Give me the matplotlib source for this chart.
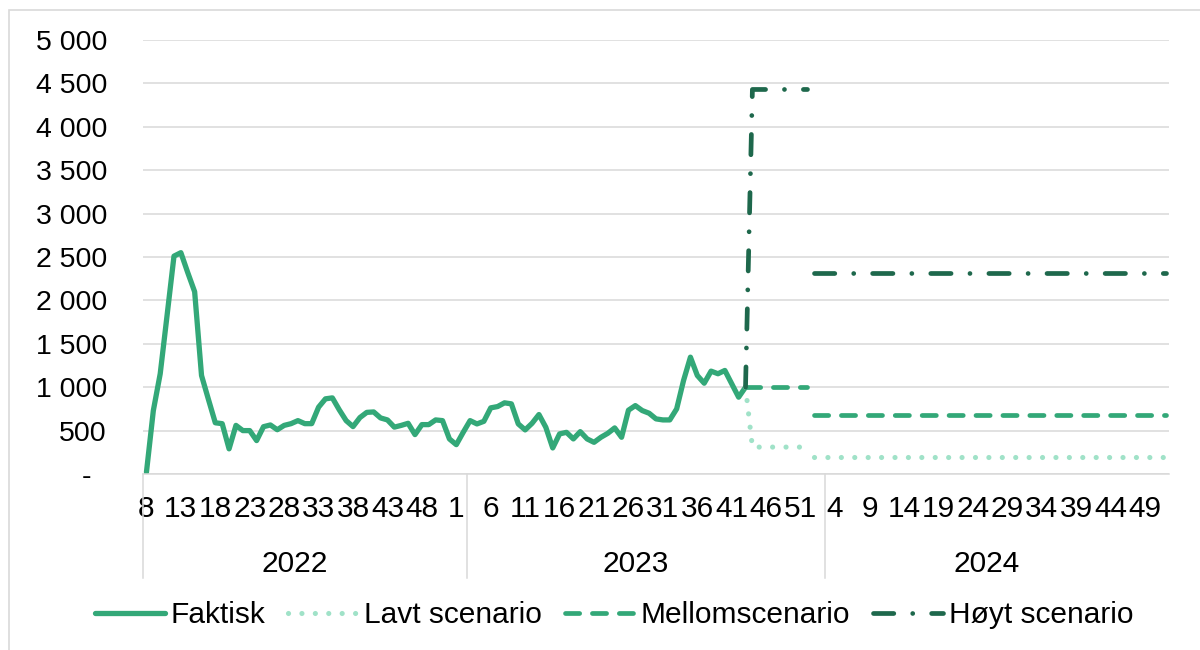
import matplotlib
matplotlib.use("Agg")
import matplotlib.pyplot as plt
import matplotlib.transforms as mtransforms
from matplotlib.patches import Rectangle
import numpy as np

plt.rcParams['font.family'] = ['Liberation Sans', 'DejaVu Sans']

#%% Data
years = ['2022', '2023', '2024']
weeks_2022 = list(range(8, 53)) + [1, 2]
weeks_2023 = list(range(3, 53)) + [1, 2]
weeks_2024 = list(range(3, 53))
weeks = weeks_2022 + weeks_2023 + weeks_2024

faktisk = [20, 730, 1155, 1830, 2510, 2550, 2320, 2100, 1135, 860,
           590, 580, 290, 560, 500, 500, 385, 545, 565, 510,
           560, 580, 615, 580, 580, 770, 866, 877, 740, 615,
           546, 650, 710, 715, 646, 623, 540, 560, 584, 454,
           569, 569, 623, 615, 404, 338, 480, 615, 577, 607,
           762, 777, 820, 808, 577, 508, 584, 685, 538, 300,
           462, 480, 404, 488, 404, 365, 423, 469, 531, 423,
           735, 788, 731, 700, 635, 623, 623, 750, 1077, 1346,
           1135, 1046, 1185, 1155, 1193, 1039, 885, 1000]
n_hist = len(faktisk) - 1  # scenario lines start at the last actual week
lavt = [np.nan] * n_hist + [1000] + [310] * 9 + [195] * 52
mellom = [np.nan] * n_hist + [1000] * 10 + [680] * 52
hoyt = [np.nan] * n_hist + [1000] + [4430] * 9 + [2320] * 52
brk = n_hist + 10  # first week of the new scenario level (no joining segment drawn)

yticks = [0, 500, 1000, 1500, 2000, 2500, 3000, 3500, 4000, 4500, 5000]

#%% Plot
c_fakt = '#33A878'
c_lavt = '#A0E2C8'
c_mell = '#33A878'
c_hoyt = '#1E684C'
grid_c = '#D9D9D9'
fs = 21.5
fs_y = 20.5

fig = plt.figure(figsize=(12, 6.5), dpi=100)
ax = fig.add_axes([143/1200, 1 - 474/650, (1169 - 143)/1200, 434/650])

x = np.arange(len(weeks))
ax.plot(x[:len(faktisk)], faktisk, color=c_fakt, lw=3.8, solid_joinstyle='round',
        solid_capstyle='round', label='Faktisk')

styles = [(lavt, c_lavt, (0, (0.01, 2.6)), 'Lavt scenario', 3.7),
          (mellom, c_mell, (0, (3.0, 2.7)), 'Mellomscenario', 3.4),
          (hoyt, c_hoyt, (0, (4.3, 4.0, 0.01, 4.0)), 'Høyt scenario', 3.4)]
for ser, col, ls, lab, lw in styles:
    ser = np.asarray(ser, dtype=float)
    ax.plot(x[:brk], ser[:brk], color=col, lw=lw, ls=ls, dash_capstyle='round', label=lab)
    ax.plot(x[brk:], ser[brk:], color=col, lw=lw, ls=ls, dash_capstyle='round')

ax.set_xlim(-0.5, len(weeks) - 0.5)
ax.set_ylim(0, 5000)
ax.set_yticks(yticks)
ax.set_yticklabels(['-  ' if v == 0 else f'{v:,}'.replace(',', ' ') for v in yticks])
ax.yaxis.grid(True, color=grid_c, lw=1.1)
ax.set_axisbelow(True)
for s in ['top', 'right', 'left']:
    ax.spines[s].set_visible(False)
ax.spines['bottom'].set_color(grid_c)
ax.spines['bottom'].set_linewidth(1.1)

tick_pos = x[::5]
ax.set_xticks(tick_pos)
ax.set_xticklabels([str(weeks[i]) for i in tick_pos])
ax.tick_params(axis='both', length=0, colors='black')
ax.tick_params(axis='x', labelsize=fs, pad=15)
ax.tick_params(axis='y', labelsize=fs_y, pad=26)

# year groups under the week labels
trans = mtransforms.blended_transform_factory(ax.transData, ax.transAxes)
sizes = [len(weeks_2022), len(weeks_2023), len(weeks_2024)]
bounds = [-0.5]
for n in sizes:
    bounds.append(bounds[-1] + n)
for b in bounds[:-1]:
    ax.plot([b, b], [0, -0.24], transform=trans, color=grid_c, lw=1.1, clip_on=False)
for i, yr in enumerate(years):
    mid = (bounds[i] + bounds[i + 1]) / 2 - 1.5
    ax.text(mid, -0.207, yr, transform=trans, ha='center', va='center', fontsize=fs)

leg = fig.legend(loc='center', bbox_to_anchor=(614/1200, 1 - 615/650), ncol=4, frameon=False,
                 fontsize=fs, handlelength=2.35, handletextpad=0.2, columnspacing=0.75)

# chart area border
fig.patches.append(Rectangle((9/1200, -0.1), 1.2, 1.1 - 10/650, transform=fig.transFigure,
                             fill=False, edgecolor=grid_c, lw=1.2, zorder=0))

fig.savefig('out.png', dpi=100)
